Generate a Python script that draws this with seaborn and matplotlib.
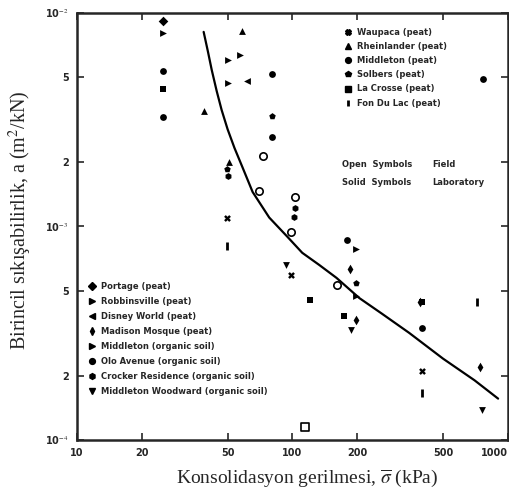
import matplotlib
matplotlib.use('Agg')
import matplotlib.pyplot as plt
from matplotlib.lines import Line2D
import seaborn as sns

# ===
# data
# ===

sites = ['Waupaca (peat)', 'Rheinlander (peat)', 'Middleton (peat)', 'Solbers (peat)',
         'La Crosse (peat)', 'Fon Du Lac (peat)',
         'Portage (peat)', 'Robbinsville (peat)', 'Disney World (peat)', 'Madison Mosque (peat)',
         'Middleton (organic soil)', 'Olo Avenue (organic soil)',
         'Crocker Residence (organic soil)', 'Middleton Woodward (organic soil)']
site_markers = ['X', '^', 'o', 'p', 's', '|', 'D', '>', '<', 'd', '>', 'o', 'h', 'v']

# solid symbols = laboratory
site_x = [[49.5, 98, 400],
          [58.6, 38.7, 50.8],
          [80, 766, 180],
          [80, 198, 49.5],
          [25, 121, 174, 400],
          [49.5, 400, 718],
          [25],
          [25, 50, 56.9, 50, 198],
          [61.2],
          [185, 198, 742, 390],
          [198],
          [25, 80, 397, 25],
          [103, 50, 102],
          [93.8, 187, 760]]
site_y = [[1.1e-3, 5.9e-4, 2.1e-4],
          [8.2e-3, 3.47e-3, 2.0e-3],
          [5.18e-3, 4.9e-3, 8.6e-4],
          [3.3e-3, 5.44e-4, 1.86e-3],
          [4.4e-3, 4.53e-4, 3.8e-4, 4.43e-4],
          [8.1e-4, 1.66e-4, 4.4e-4],
          [9.2e-3],
          [8.05e-3, 6.03e-3, 6.36e-3, 4.7e-3, 7.85e-4],
          [4.8e-3],
          [6.3e-4, 3.66e-4, 2.2e-4, 4.43e-4],
          [4.73e-4],
          [3.26e-3, 2.63e-3, 3.35e-4, 5.35e-3],
          [1.22e-3, 1.72e-3, 1.11e-3],
          [6.6e-4, 3.27e-4, 1.38e-4]]

# open symbols = field
field_circle_x = [72.6, 103, 98, 161, 69.6]
field_circle_y = [2.14e-3, 1.37e-3, 9.4e-4, 5.3e-4, 1.47e-3]
field_square_x = [114]
field_square_y = [1.15e-4]

# trend curve
curve_x = [38.7, 40.5, 42.2, 44.5, 46.9, 50.0, 53.8, 58.5, 65.3, 78.0, 94.8, 111, 133, 160, 204, 260, 348, 500, 700, 900]
curve_y = [8.15e-3, 6.6e-3, 5.4e-3, 4.3e-3, 3.51e-3, 2.85e-3, 2.33e-3, 1.9e-3, 1.45e-3, 1.1e-3, 8.93e-4, 7.52e-4, 6.6e-4, 5.74e-4, 4.62e-4, 3.9e-4, 3.17e-4, 2.4e-4, 1.9e-4, 1.56e-4]

x_ticks = [10, 20, 50, 100, 200, 500, 1000]
y_ticks = [1e-4, 2e-4, 5e-4, 1e-3, 2e-3, 5e-3, 1e-2]
y_tick_labels = ['10$^{-4}$', '2', '5', '10$^{-3}$', '2', '5', '10$^{-2}$']

# ===
# plot
# ===

sns.set_style('ticks')
plt.rcParams['font.family'] = ['DejaVu Sans']
plt.rcParams['mathtext.fontset'] = 'stix'

fig = plt.figure(figsize=(5.1, 4.97), dpi=100)
ax = fig.add_axes([0.151, 0.115, 0.845, 0.859])

for name, mk, xs, ys in zip(sites, site_markers, site_x, site_y):
    if mk == '|':
        sns.scatterplot(x=xs, y=ys, marker=mk, color='black', s=26, linewidth=2, ax=ax)
    else:
        sns.scatterplot(x=xs, y=ys, marker=mk, color='black', s=24, linewidth=0, ax=ax)

sns.scatterplot(x=field_circle_x, y=field_circle_y, marker='o', s=28,
                facecolor='white', edgecolor='black', linewidth=1.2, ax=ax)
sns.scatterplot(x=field_square_x, y=field_square_y, marker='s', s=26,
                facecolor='white', edgecolor='black', linewidth=1.2, ax=ax)

sns.lineplot(x=curve_x, y=curve_y, sort=False, color='black', linewidth=1.6, ax=ax)

ax.set_xscale('log')
ax.set_yscale('log')
ax.set_xlim(10, 1000)
ax.set_ylim(1e-4, 1e-2)
ax.minorticks_off()
ax.set_xticks(x_ticks)
ax.set_xticklabels([str(t) for t in x_ticks], fontsize=7, fontweight='bold')
ax.get_xticklabels()[-1].set_horizontalalignment('right')
ax.set_yticks(y_ticks)
ax.set_yticklabels(y_tick_labels, fontsize=7, fontweight='bold')
ax.tick_params(direction='in', length=5, width=1.2, top=True, right=True, pad=6)

for sp in ax.spines.values():
    sp.set_linewidth(1.8)

ax.set_xlabel(r'Konsolidasyon gerilmesi, $\overline{\sigma}$ (kPa)',
              family='Liberation Serif', fontsize=14)
ax.set_ylabel('Birincil sıkışabilirlik, a (m$^2$/kN)',
              family='Liberation Serif', fontsize=14.5)
ax.xaxis.set_label_coords(0.535, -0.066)
ax.yaxis.set_label_coords(-0.1, 0.515)

def handles(idx):
    out = []
    for i in idx:
        mk = site_markers[i]
        if mk == '|':
            out.append(Line2D([], [], linestyle='none', marker=mk, color='black',
                              markersize=5, markeredgewidth=2, label=sites[i]))
        else:
            out.append(Line2D([], [], linestyle='none', marker=mk, color='black',
                              markersize=4.2, label=sites[i]))
    return out

leg1 = ax.legend(handles=handles(range(6)), loc='upper left', bbox_to_anchor=(0.61, 0.975),
                 frameon=False, borderpad=0, handlelength=1, handletextpad=0.6,
                 labelspacing=0.62, prop={'size': 6, 'weight': 'bold'})
ax.add_artist(leg1)
ax.legend(handles=handles(range(6, 14)), loc='upper left', bbox_to_anchor=(0.015, 0.38),
          frameon=False, borderpad=0, handlelength=1, handletextpad=0.6,
          labelspacing=0.72, prop={'size': 6, 'weight': 'bold'})

ax.text(0.616, 0.644, 'Open  Symbols', transform=ax.transAxes, fontsize=6, fontweight='bold', va='center')
ax.text(0.824, 0.644, 'Field', transform=ax.transAxes, fontsize=6, fontweight='bold', va='center')
ax.text(0.616, 0.602, 'Solid  Symbols', transform=ax.transAxes, fontsize=6, fontweight='bold', va='center')
ax.text(0.824, 0.602, 'Laboratory', transform=ax.transAxes, fontsize=6, fontweight='bold', va='center')

fig.savefig('out.png', dpi=100)
